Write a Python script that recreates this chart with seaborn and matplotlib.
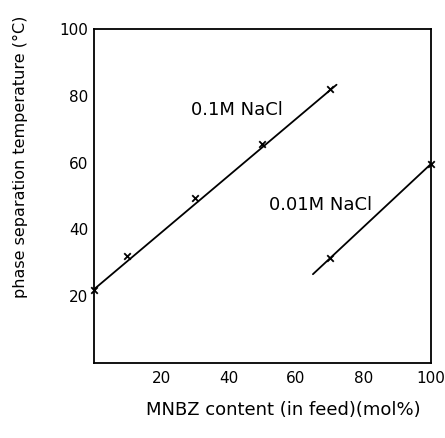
import matplotlib
matplotlib.use("Agg")
import matplotlib.pyplot as plt
import seaborn as sns
import pandas as pd

# measured points
x_01 = [0, 10, 30, 50, 70]
y_01 = [22, 32, 49.5, 65.5, 82]
x_001 = [70, 100]
y_001 = [31.5, 59.5]
# drawn fit lines (endpoints)
fit_x_01 = [0, 72]
fit_y_01 = [22, 83.3]
fit_x_001 = [65, 100]
fit_y_001 = [26.6, 59.6]

labels = ["0.1M NaCl", "0.01M NaCl"]
xticks = [20, 40, 60, 80, 100]
yticks = [20, 40, 60, 80, 100]

sns.set_theme(style="white")
plt.rcParams['font.family'] = ['DejaVu Sans']
plt.rcParams['text.color'] = 'black'
plt.rcParams['axes.labelcolor'] = 'black'

fig = plt.figure(figsize=(4.45, 4.38), dpi=100)
ax = fig.add_axes([0.2105, 0.171, 0.758, 0.763])

pts = pd.concat([
    pd.DataFrame({"x": x_01, "y": y_01, "s": labels[0]}),
    pd.DataFrame({"x": x_001, "y": y_001, "s": labels[1]}),
])
fits = pd.concat([
    pd.DataFrame({"x": fit_x_01, "y": fit_y_01, "s": labels[0]}),
    pd.DataFrame({"x": fit_x_001, "y": fit_y_001, "s": labels[1]}),
])

sns.lineplot(data=fits, x="x", y="y", units="s", estimator=None, color="black",
             lw=1.3, ax=ax, legend=False)
sns.scatterplot(data=pts, x="x", y="y", marker="x", color="black", s=22,
                linewidth=1.3, ax=ax, legend=False, clip_on=False, zorder=5)

ax.set_xlim(0, 100)
ax.set_ylim(0, 100)
ax.set_xticks(xticks)
ax.set_yticks(yticks)
ax.tick_params(direction="in", length=4, width=1.2, colors="black",
               labelcolor="black", labelsize=11, pad=4)
ax.tick_params(axis="x", pad=6)
for sp in ax.spines.values():
    sp.set_color("black")
    sp.set_linewidth(1.3)

ax.set_xlabel("MNBZ content (in feed)(mol%)", fontsize=13, color="black")
ax.xaxis.set_label_coords(0.561, -0.112)
ax.set_ylabel("phase separation temperature (°C)", fontsize=11.5, color="black")
ax.yaxis.set_label_coords(-0.195, 0.617)

ax.text(29, 75.7, labels[0], fontsize=13, va="center", ha="left", color="black")
ax.text(52, 47.3, labels[1], fontsize=13, va="center", ha="left", color="black")

fig.savefig("out.png", dpi=100)
